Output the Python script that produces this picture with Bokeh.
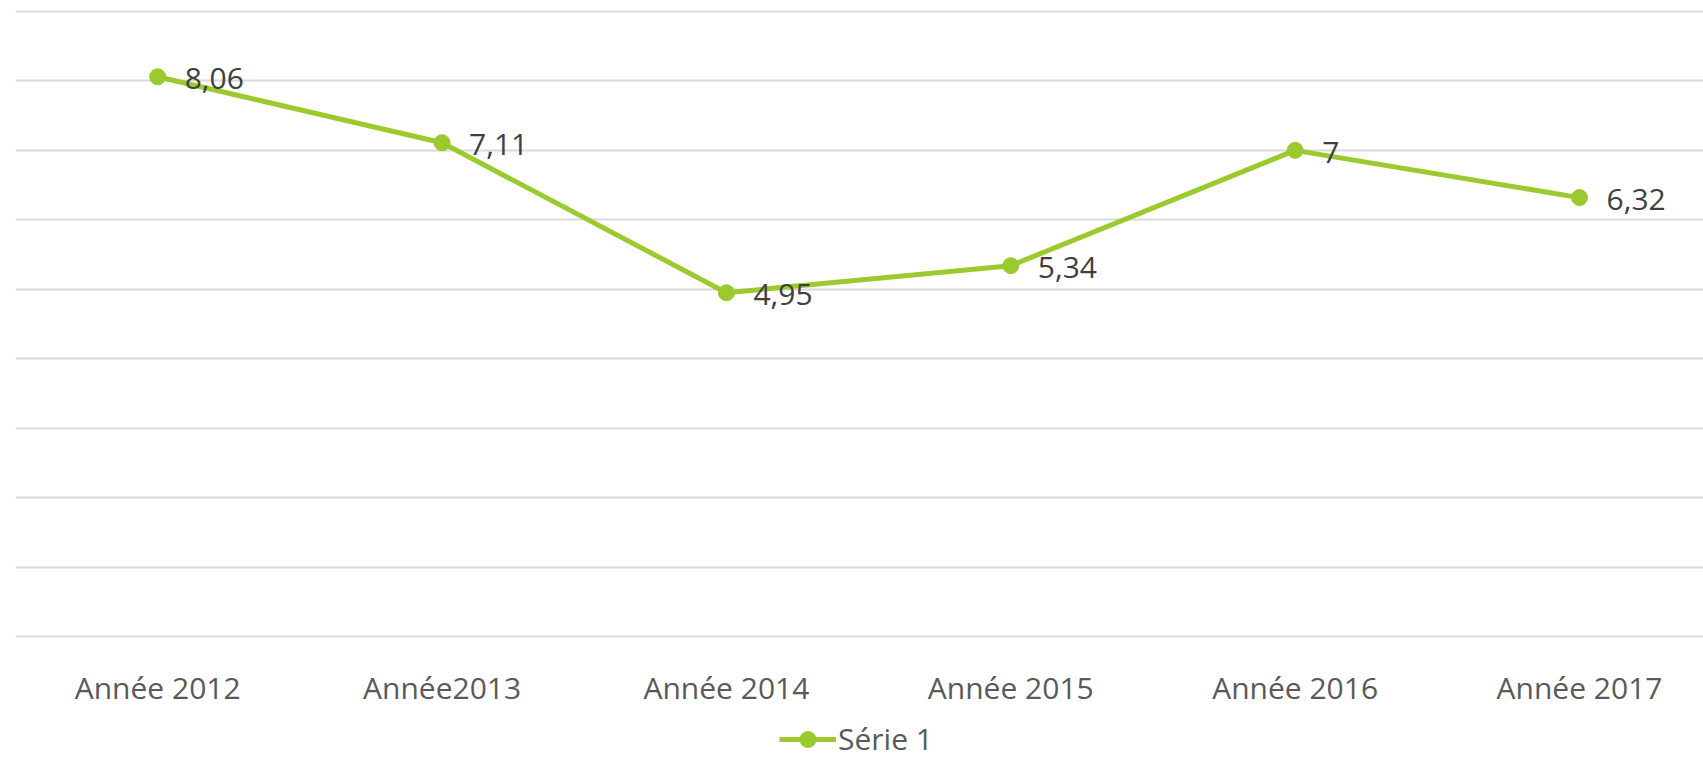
from bokeh.plotting import figure
from bokeh.models import ColumnDataSource, FixedTicker, Range1d, Legend, LegendItem
from bokeh.core.properties import value
from bokeh.embed import file_html
from bokeh.resources import INLINE

categories = ["Année 2012", "Année2013", "Année 2014", "Année 2015", "Année 2016", "Année 2017"]
values = [8.06, 7.11, 4.95, 5.34, 7.0, 6.32]
series_name = "Série 1"
y_ticks = [0, 1, 2, 3, 4, 5, 6, 7, 8, 9]

GREEN = "#9BCA2E"
FONT = "Open Sans"

x = list(range(len(categories)))
labels = [f"{v:g}".replace(".", ",") for v in values]
src = ColumnDataSource(dict(x=x, y=values, label=labels))
cat_src = ColumnDataSource(dict(x=x, y=[y_ticks[0]] * len(categories), cat=categories))

p = figure(width=1703, height=759,
           x_range=Range1d(-0.5, 5.436), y_range=Range1d(-1.771, 9.158),
           output_backend="svg", toolbar_location=None,
           min_border_left=15, min_border_right=0, min_border_top=0, min_border_bottom=0)
p.outline_line_color = None
p.background_fill_color = "white"
p.border_fill_color = "white"

p.yaxis.visible = False
p.xaxis.visible = False
p.xgrid.visible = False
p.ygrid.ticker = FixedTicker(ticks=y_ticks)
p.ygrid.grid_line_color = "#d9d9d9"
p.ygrid.grid_line_width = 2

# category labels under the baseline
p.text(x="x", y="y", text="cat", source=cat_src, y_offset=51,
       text_baseline="alphabetic", text_align="center",
       text_font=value(FONT), text_font_size=value("30px"), text_color="#595959")

r1 = p.line("x", "y", source=src, line_width=5, line_color=GREEN)
r2 = p.scatter("x", "y", source=src, size=16, fill_color=GREEN, line_color=GREEN)

p.text(x="x", y="y", text="label", source=src, x_offset=27, y_offset=2,
       text_baseline="middle", text_align="left",
       text_font=value(FONT), text_font_size=value("30px"), text_color="#404040")

legend = Legend(items=[LegendItem(label=series_name, renderers=[r1, r2])],
                location=(764, 0), orientation="horizontal",
                glyph_width=57, glyph_height=40, label_standoff=2, label_height=30,
                label_text_font=FONT, label_text_font_size="30px",
                label_text_color="#595959", border_line_color=None,
                background_fill_alpha=0, padding=0, margin=0, spacing=0)
p.add_layout(legend, "center")

open("out.html", "w").write(file_html(p, INLINE))
